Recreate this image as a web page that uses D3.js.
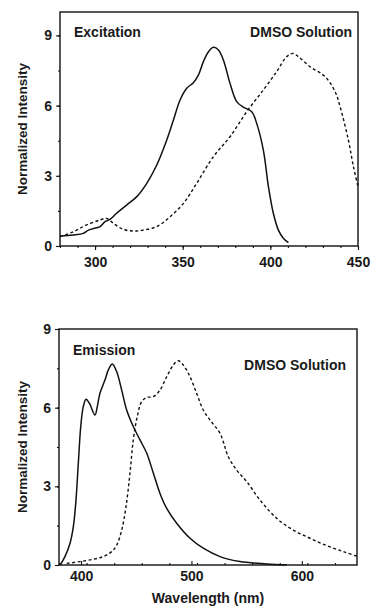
<!DOCTYPE html>
<meta charset="utf-8">
<script src="https://d3js.org/d3.v7.min.js"></script>
<style>
  body { margin: 0; background: #fff; }
  text { font-family: "Liberation Sans", Arial, sans-serif; font-weight: bold; fill: #1a1a1a; }
</style>
<div id="chart"></div>
<script>
  // excitation panel (DMSO solution)
  const excSolidNm = [280, 287.6, 293.3, 296.2, 300.9, 302.8, 305.7, 308.5, 312.3, 318, 323.8, 329.5, 335.2, 340.9, 344.7, 348.5, 352.3, 356.1, 359, 361.8, 364.7, 367.5, 370.4, 373.2, 377, 380.8, 384.6, 389.4, 392.2, 396, 398.9, 401.7, 404.6, 407.4, 410.3];
  const excSolidVal = [0.43, 0.47, 0.54, 0.68, 0.78, 0.83, 1.04, 1.14, 1.40, 1.75, 2.11, 2.68, 3.46, 4.53, 5.38, 6.24, 6.74, 6.98, 7.31, 7.88, 8.30, 8.49, 8.38, 7.95, 6.95, 6.17, 5.93, 5.74, 5.24, 4.10, 2.54, 1.40, 0.68, 0.33, 0.14];
  const excDashNm = [280, 287.6, 295.2, 302.8, 306.6, 310.4, 316.1, 321.8, 327.5, 335.2, 342.8, 350.4, 358, 367.5, 377, 386.5, 396, 403.6, 409.3, 412.8, 416, 422.7, 431.2, 436.9, 439.8, 444.5, 447.4, 450];
  const excDashVal = [0.40, 0.61, 0.90, 1.11, 1.18, 0.97, 0.71, 0.64, 0.68, 0.83, 1.25, 1.82, 2.68, 3.82, 4.67, 5.74, 6.67, 7.45, 8.09, 8.23, 8.09, 7.66, 7.24, 6.60, 5.95, 4.53, 3.39, 2.54];
  const excTicksX = [300, 350, 400, 450];

  // emission panel (DMSO solution)
  const emSolidNm = [381, 385.4, 390, 393, 395.4, 397.5, 399.7, 402, 404.5, 407.5, 412.6, 414.7, 417.1, 421.7, 424.7, 428.3, 432.3, 436.8, 441.3, 447.3, 453.4, 459.5, 465.5, 471.5, 477.6, 486.6, 498.7, 510.7, 525.9, 544, 568.2, 586.3];
  const emSolidVal = [0, 0.32, 0.83, 1.46, 2.48, 3.88, 5.28, 6.04, 6.32, 6.17, 5.72, 6.04, 6.55, 7.06, 7.44, 7.67, 7.37, 6.67, 5.91, 5.28, 4.77, 4.26, 3.50, 2.73, 2.16, 1.59, 1.02, 0.64, 0.32, 0.13, 0.04, 0];
  const emDashNm = [387, 399, 411, 420.1, 427.7, 432.3, 436.8, 440.7, 444.3, 447.3, 450.9, 454.9, 459.5, 465.5, 471.5, 477.6, 483.6, 488.1, 492.6, 498.7, 504.7, 510.7, 516.8, 525.9, 533.4, 541, 550.1, 562.1, 577.2, 592.3, 607.4, 622.5, 637.6, 649.7];
  const emDashVal = [0.06, 0.13, 0.22, 0.32, 0.51, 0.76, 1.33, 2.22, 3.50, 4.77, 5.66, 6.23, 6.39, 6.42, 6.67, 7.18, 7.63, 7.79, 7.63, 7.18, 6.55, 5.91, 5.53, 5.02, 4.13, 3.62, 3.18, 2.48, 1.78, 1.33, 1.02, 0.74, 0.51, 0.34];
  const emTicksX = [400, 500, 600];

  const yTicks = [0, 3, 6, 9];

  const svg = d3.select("#chart")
    .append("svg")
    .attr("width", 372)
    .attr("height", 609);

  function drawPanel(p) {
    const x = d3.scaleLinear().domain(p.xDomain).range([p.left, p.left + p.width]);
    const y = d3.scaleLinear().domain(p.yDomain).range([p.top + p.height, p.top]);
    const g = svg.append("g");

    // frame
    g.append("rect")
      .attr("x", p.left).attr("y", p.top)
      .attr("width", p.width).attr("height", p.height)
      .attr("fill", "none").attr("stroke", "#111").attr("stroke-width", 1.4);

    // y axis with minor ticks
    const yMinor = d3.range(0, p.yDomain[1] + 0.01, 1.5);
    g.append("g")
      .attr("transform", `translate(${p.left},0)`)
      .call(d3.axisLeft(y).tickValues(yMinor).tickSize(2).tickFormat(""))
      .call(a => a.select(".domain").remove());
    g.append("g")
      .attr("transform", `translate(${p.left},0)`)
      .call(d3.axisLeft(y).tickValues(yTicks).tickSize(4).tickPadding(4).tickFormat(d3.format("d")))
      .call(a => a.select(".domain").remove())
      .call(a => a.selectAll("text").style("font-size", "14px"));

    // x axis with minor ticks
    const xb = p.top + p.height;
    const dir = p.xInward ? -1 : 1;
    g.append("g")
      .attr("transform", `translate(0,${xb})`)
      .call(d3.axisBottom(x).tickValues(d3.range(p.xDomain[0], p.xDomain[1] + 0.01, p.xMinor)).tickSize(2 * dir).tickFormat(""))
      .call(a => a.select(".domain").remove());
    g.append("g")
      .attr("transform", `translate(0,${xb})`)
      .call(d3.axisBottom(x).tickValues(p.xTicks).tickSize(4 * dir).tickPadding(p.xInward ? 6 : 7).tickFormat(d3.format("d")))
      .call(a => a.select(".domain").remove())
      .call(a => a.selectAll("text").style("font-size", "14px"));
    g.selectAll(".tick line").attr("stroke", "#111").attr("stroke-width", 1.1);

    const line = d3.line()
      .x(d => x(d[0]))
      .y(d => y(d[1]))
      .curve(d3.curveCatmullRom.alpha(0.5));

    g.append("path")
      .datum(d3.zip(p.dashNm, p.dashVal))
      .attr("d", line)
      .attr("fill", "none")
      .attr("stroke", "#111")
      .attr("stroke-width", 1.4)
      .attr("stroke-dasharray", "3,2.5");

    g.append("path")
      .datum(d3.zip(p.solidNm, p.solidVal))
      .attr("d", line)
      .attr("fill", "none")
      .attr("stroke", "#111")
      .attr("stroke-width", 1.5);

    // labels
    g.append("text")
      .attr("x", p.left + 14).attr("y", p.labelY)
      .style("font-size", "14px")
      .text(p.label);
    g.append("text")
      .attr("x", p.solX).attr("y", p.solY)
      .attr("text-anchor", "end")
      .style("font-size", "14px")
      .text("DMSO Solution");
    g.append("text")
      .attr("transform", `translate(27,${p.top + p.height / 2}) rotate(-90)`)
      .attr("text-anchor", "middle")
      .style("font-size", "13.5px")
      .text("Normalized Intensity");
  }

  drawPanel({
    left: 60, top: 12, width: 298, height: 234,
    xDomain: [280, 450], yDomain: [0, 10],
    xTicks: excTicksX, xMinor: 10, xInward: false,
    solidNm: excSolidNm, solidVal: excSolidVal,
    dashNm: excDashNm, dashVal: excDashVal,
    label: "Excitation", labelY: 37,
    solX: 352, solY: 37
  });

  drawPanel({
    left: 59, top: 329, width: 298, height: 236,
    xDomain: [380, 650], yDomain: [0, 9],
    xTicks: emTicksX, xMinor: 25, xInward: true,
    solidNm: emSolidNm, solidVal: emSolidVal,
    dashNm: emDashNm, dashVal: emDashVal,
    label: "Emission", labelY: 355,
    solX: 346, solY: 370
  });

  svg.append("text")
    .attr("x", 208).attr("y", 603)
    .attr("text-anchor", "middle")
    .style("font-size", "14px")
    .text("Wavelength (nm)");
</script>
